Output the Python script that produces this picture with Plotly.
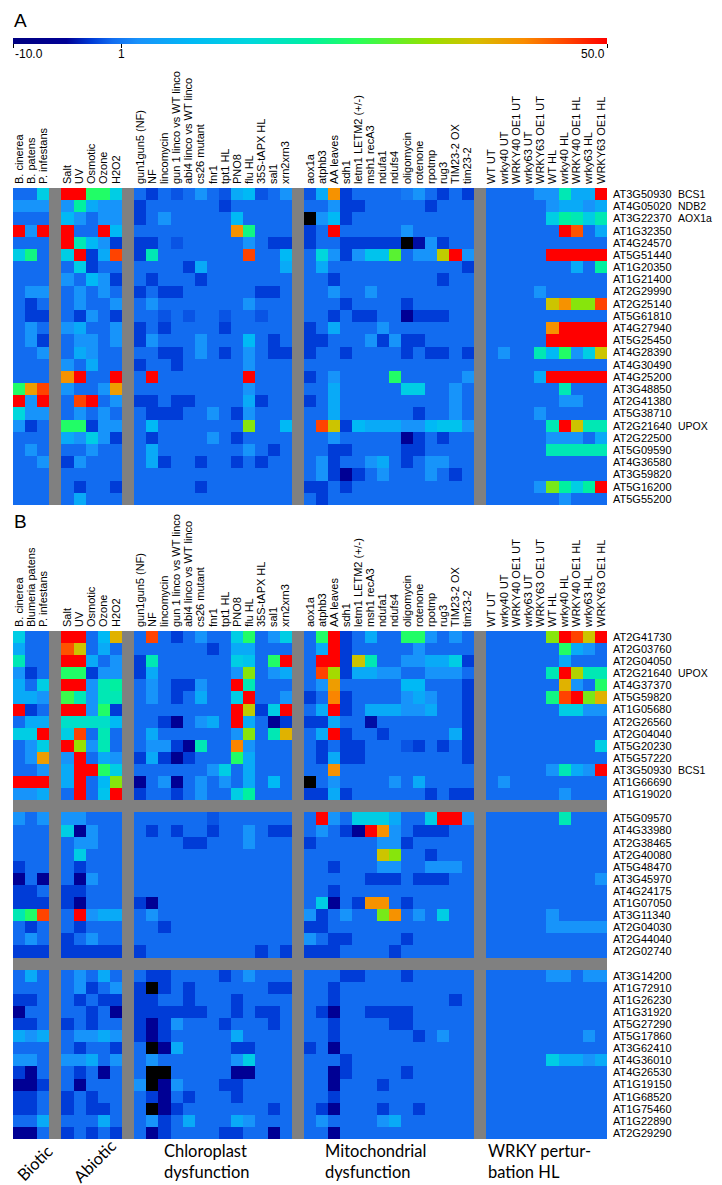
import plotly.graph_objects as go

W, H = 722, 1185

# ---------------- column labels ----------------
biotic_a = ["B. cinerea", "B. patens", "P. infestans"]
biotic_b = ["B. cinerea", "Blumeria patens", "P. infestans"]
abiotic = ["Salt", "UV", "Osmotic", "Ozone", "H2O2"]
chloro = ["gun1gun5 (NF)", "NF", "lincomycin", "gun 1 linco vs WT linco", "abi4 linco vs WT linco",
          "cs26 mutant", "fnr1", "tpt1 HL", "PNO8", "flu HL", "35S-tAPX HL", "sal1", "xrn2xrn3"]
mito = ["aox1a", "atphb3", "AA leaves", "sdh1", "letm1 LETM2 (+/-)", "msh1 recA3", "ndufa1", "ndufs4",
        "oligomycin", "rotenone", "rpotmp", "rug3", "TIM23-2 OX", "tim23-2"]
wrky = ["WT UT", "wrky40 UT", "WRKY40 OE1 UT", "wrky63 UT", "WRKY63 OE1 UT",
        "WT HL", "wrky40 HL", "WRKY40 OE1 HL", "wrky63 HL", "WRKY63 OE1 HL"]
group_titles = ["Biotic", "Abiotic", "Chloroplast<br>dysfunction", "Mitochondrial<br>dysfunction",
                "WRKY pertur-<br>bation HL"]

# ---------------- panel A ----------------
panel_a_genes = ["AT3G50930", "AT4G05020", "AT3G22370", "AT1G32350", "AT4G24570", "AT5G51440",
                 "AT1G20350", "AT1G21400", "AT2G29990", "AT2G25140", "AT5G61810", "AT4G27940",
                 "AT5G25450", "AT4G28390", "AT4G30490", "AT4G25200", "AT3G48850", "AT2G41380",
                 "AT5G38710", "AT2G21640", "AT2G22500", "AT5G09590", "AT4G36580", "AT3G59820",
                 "AT5G16200", "AT5G55200"]
panel_a_named = {"AT3G50930": "BCS1", "AT4G05020": "NDB2", "AT3G22370": "AOX1a", "AT2G21640": "UPOX"}

# values: biotic(3) | abiotic(5) | chloroplast(13) | mitochondrial(14) | WRKY(10); -20 = off scale (black)
panel_a_values = [
    [0, 0, 12,  50, 50, 24, 24, 12,  0, -2, 0, -1, 0, 3, 0, -1, 6, 8, -1, 0, 3,  -1, 6, 41, -2, 0, 0, 0, 0, 1, 3, 0, -2, 0, -2,  0, 0, 0, 0, 3, 3, 18, 6, 6, 50],
    [3, 3, 3,  3, 20, 6, 3, 3,  -2, 0, 0, 0, 0, 0, 0, -2, 0, 0, 0, 0, 0,  0, 0, 3, -2, -2, 0, 0, 0, 0, 0, -2, 0, 0, 0,  0, 0, 0, 0, 0, 3, 6, 6, 3, 6],
    [0, 0, 0,  8, 3, 0, 3, 3,  -2, 0, 3, 0, 0, 0, 0, 0, 8, 0, 0, 0, 0,  -20, 3, 8, -2, 0, 0, 0, 0, 0, 0, 0, 0, 0, 0,  0, 0, 0, 0, 0, 12, 20, 18, 12, 18],
    [50, 3, 50,  50, 0, 0, 50, 8,  0, 0, 0, 0, 0, 0, 0, 0, 41, 22, 0, 0, 0,  -2, 0, 50, 0, 0, 0, 0, 0, 3, 0, 0, 0, 0, 0,  0, 0, 0, 0, 0, 0, 50, 45, 0, 6],
    [0, 0, 0,  50, 18, 8, 3, -2,  -2, -2, 0, -1, 0, 0, 0, 0, 0, 3, 0, -2, -2,  -2, 0, 0, -2, -2, -2, -2, -2, -20, -4, 3, -2, 0, 0,  0, 0, 0, 0, 0, 0, 0, 0, 0, 0],
    [12, 22, 0,  12, 50, -2, 6, 46,  -2, 18, 0, 0, 0, 0, 0, 0, 0, 46, 0, 0, 8,  0, 14, 3, -2, 3, 10, 10, 28, 0, 3, 3, 35, 50, 3,  0, 0, 0, 0, 0, 50, 50, 50, 50, 50],
    [0, 0, 0,  0, 12, -2, 0, 0,  0, 0, 0, 0, -2, 6, 0, 0, 0, 0, 0, 0, 6,  0, 6, 0, 0, 0, 0, 0, 0, 0, 0, 0, 0, 0, -2,  0, 0, 0, 0, 0, 0, 0, 6, 0, 20],
    [0, 0, 0,  3, 0, 8, 3, -2,  0, -2, 0, 0, 0, -2, 0, 0, 0, 0, 0, 0, 0,  0, 0, -2, 0, 0, 0, 0, 0, 0, 0, 0, -2, 0, 0,  0, 0, 0, 0, 0, 0, 0, 0, 0, 0],
    [0, 3, 3,  0, 3, 0, 3, 0,  -2, 0, -2, -2, 0, 0, 0, 0, 0, 0, -2, -2, 0,  0, 0, 3, 0, 0, 3, 0, 0, 0, 0, 0, 0, 0, 0,  0, 0, 0, 0, 3, 0, 0, 0, 0, 0],
    [0, -2, 0,  0, 3, 0, 0, 3,  0, 3, 0, 0, 0, 0, 0, 0, 0, 3, 0, 0, 0,  0, 0, 0, -2, 0, 0, 0, 0, -2, 0, 0, 0, 0, 0,  0, 0, 0, 0, 0, 36, 41, 31, 31, 46],
    [0, -2, -2,  0, -2, 3, 0, -2,  0, 0, -1, 0, -1, 0, 0, -1, 0, 0, -1, 0, 0,  0, 0, -2, 0, -2, -2, 0, 0, -5, -2, -2, -2, 0, 0,  0, 0, 0, 0, 0, 0, 0, 0, 0, 0],
    [0, 3, 0,  3, 6, 0, 0, 3,  -2, 0, -2, 0, 0, 0, 0, -2, 0, 0, 0, 0, 0,  -2, 0, 6, 0, 0, 0, 3, 0, 0, 0, 0, 0, 0, 0,  0, 0, 0, 0, 0, 41, 50, 50, 50, 50],
    [0, 3, -2,  0, 3, 3, 0, 3,  -2, 3, 0, 0, 0, 3, 0, 0, 0, 8, 0, -2, 0,  -2, -2, 0, 0, 0, 3, -2, 3, -2, -2, 0, 0, 0, 0,  0, 0, 0, 0, 0, 50, 50, 50, 50, 50],
    [0, 0, 3,  0, 6, 3, 0, 0,  0, 0, -2, -2, 0, 3, 0, -2, 0, 3, 0, -2, -2,  -2, 0, 0, -2, 0, 0, 0, 0, -2, 0, -2, -2, 0, -2,  0, 3, 0, 0, 18, 8, 24, 3, 12, 36],
    [0, 0, 0,  3, 0, 6, 0, 0,  -2, 0, 0, -2, 0, 0, 0, 0, 0, 3, 0, 0, 0,  0, 0, 0, 0, 0, 0, 0, 0, 0, 0, 0, 0, 0, 0,  0, 0, 0, 0, 0, 0, 0, 0, 0, 0],
    [0, 0, 0,  41, 50, 0, 0, 50,  0, 50, 0, 0, 0, 0, 0, 0, 0, 50, 0, 0, 0,  -2, 0, 3, 0, 0, 0, 0, 24, 0, 0, 0, 0, 0, 3,  0, 0, 0, 0, 6, 50, 50, 50, 50, 50],
    [24, 40, 46,  3, 0, 0, 3, 40,  0, 0, 0, 0, 0, 0, 0, 0, 0, 3, 0, 0, 0,  0, 0, 6, 0, 0, 0, 0, 0, 12, 12, 0, 0, 3, 0,  0, 0, 0, 0, 0, 0, 18, 0, 0, 0],
    [50, 3, 50,  0, 46, 50, 0, 3,  -2, -2, 0, -2, -2, 0, 0, 0, 0, 6, -2, 0, 0,  -2, 0, 6, 0, 0, 0, 0, 0, 0, 0, 0, 0, 3, 0,  0, 0, 0, 0, 0, 0, 3, 3, 0, 0],
    [14, 3, 3,  0, 3, 0, 3, 0,  0, -2, -2, -2, 0, 0, 3, 0, -2, 3, 0, 0, 0,  0, 0, 6, 0, 0, 0, 0, 0, 0, -2, 0, 0, 3, 0,  0, 0, 0, 0, 3, 0, 0, 0, 0, 0],
    [3, -2, 0,  24, 24, -2, 3, 3,  0, 8, 0, 0, 0, 0, 0, 0, 0, 31, 0, 0, 8,  0, 46, 36, -2, 8, 6, 6, 6, 3, 3, 8, 10, 10, 3,  0, 0, 0, 0, 0, 18, 50, 36, 18, 18],
    [0, 0, 0,  6, 3, 12, 3, -2,  0, -2, 0, 0, 0, 0, 3, 0, -2, 0, 0, 0, 0,  0, 0, 3, 0, 0, 0, 0, 0, -5, -2, 0, -2, 0, 0,  0, 0, 0, 0, 0, 3, 3, 3, 0, 6],
    [0, 3, 0,  0, 0, 3, 0, 0,  0, 6, 0, 0, 0, 0, 0, 0, 0, 3, 0, -2, 0,  0, 0, -2, -2, 0, 0, 0, 0, -2, -2, 0, 0, 0, 0,  0, 0, 0, 0, 0, 18, 18, 18, 18, 18],
    [0, 0, 3,  -2, 3, 0, 0, 0,  0, 6, -2, 0, 0, -2, 0, 0, -2, 0, -2, 0, 0,  0, 3, -2, 0, 0, 3, 6, 0, -2, 0, 3, 3, 0, 0,  0, 0, 0, 0, 0, 0, 0, 0, 0, 0],
    [0, 0, 0,  0, 0, 0, 0, 0,  0, 0, 0, 0, 0, 0, 0, 0, 0, 0, 0, 0, 0,  0, 3, -2, -5, -2, 0, 3, 0, 0, 0, 3, 0, -2, 0,  0, 0, 0, 0, 0, 0, 0, 0, 0, 0],
    [0, 0, 0,  0, -2, 0, 0, -2,  0, 0, 0, 0, 0, -2, 0, 0, 0, 0, 0, 0, 0,  -2, -2, 0, -2, 0, 0, 0, 0, 0, 0, 0, 0, 0, 0,  0, 0, 0, 0, 3, 30, 20, 12, 20, 50],
    [0, 0, 0,  0, 6, 0, 0, 0,  0, 0, 0, 0, 0, 0, 0, 0, 0, 0, 0, 0, 0,  0, -2, 0, 0, 0, 0, 0, 0, 0, 0, 0, 0, 0, 0,  0, 0, 0, 0, 0, 0, 3, 0, 0, 0],
]

# ---------------- panel B (three gene clusters) ----------------
b1_genes = ["AT2G41730", "AT2G03760", "AT2G04050", "AT2G21640", "AT4G37370", "AT5G59820", "AT1G05680",
            "AT2G26560", "AT2G04040", "AT5G20230", "AT5G57220", "AT3G50930", "AT1G66690", "AT1G19020"]
b2_genes = ["AT5G09570", "AT4G33980", "AT2G38465", "AT2G40080", "AT5G48470", "AT3G45970", "AT4G24175",
            "AT1G07050", "AT3G11340", "AT2G04030", "AT2G44040", "AT2G02740"]
b3_genes = ["AT3G14200", "AT1G72910", "AT1G26230", "AT1G31920", "AT5G27290", "AT5G17860", "AT3G62410",
            "AT4G36010", "AT4G26530", "AT1G19150", "AT1G68520", "AT1G75460", "AT1G22890", "AT2G29290"]
panel_b_named = {"AT2G21640": "UPOX", "AT3G50930": "BCS1"}

b1_values = [
    [12, 0, 0,  50, 50, 0, 8, 38,  0, 46, 0, -2, 0, 3, 0, 0, 12, 24, 0, 3, 12,  0, 24, 50, -2, 0, 6, 0, 0, 24, 24, 3, 0, 3, 0,  0, 0, 0, 0, 0, 31, 50, 46, 36, 50],
    [6, 0, 0,  45, 36, 0, 6, 0,  0, 0, 0, 0, 0, 0, -2, 0, 6, 6, 0, 0, 0,  0, 6, 50, -2, 0, 0, 0, 0, 0, 3, 0, 0, 0, 0,  0, 0, 0, 0, 0, 0, 24, 6, 3, 0],
    [18, 0, 0,  50, 50, 6, 0, 3,  -2, 18, 0, 0, 0, 0, 0, 0, 12, 10, 0, 24, 50,  0, 50, 50, -2, 36, 18, 0, 0, 3, 3, 6, 6, 12, -2,  0, 0, 0, 0, 0, 0, 6, 0, 0, 0],
    [3, -2, 0,  24, 24, -2, 3, 3,  -2, 6, 0, 0, 0, 0, 0, 0, 3, 31, 0, 3, 6,  0, 46, 33, -2, 6, 6, 3, 3, 0, 0, 3, 3, 3, 0,  0, 0, 0, 0, 0, 18, 50, 34, 18, 18],
    [6, 0, 12,  50, 50, 3, 18, 20,  0, 3, 0, -2, -2, 3, 0, 0, 50, 18, 0, 0, 0,  0, 3, 40, 0, 0, 0, 0, 0, 8, 8, 0, 0, 0, -2,  0, 0, 0, 0, 0, 0, 38, 3, 0, 24],
    [6, 6, 3,  26, 18, 3, 18, 18,  0, 3, 0, -2, 0, 6, 0, 0, 12, 50, 0, 0, 3,  -2, 0, 42, -2, 0, 0, 0, 0, 3, 6, 3, 0, 0, -2,  0, 0, 0, 0, 0, 22, 46, 50, 30, 38],
    [50, -2, 0,  50, 50, 3, 24, -2,  0, 0, 0, 0, 0, 0, 0, 0, 50, 35, -2, 12, 50,  0, 6, 50, -2, 0, 6, 6, 6, 3, 3, 6, 0, 0, -2,  0, 0, 0, 0, 0, 0, 12, 12, 3, 3],
    [0, 6, 6,  16, 16, 16, 16, 8,  0, 0, -2, -5, 0, 3, 6, 0, 50, 6, 0, -5, -2,  -2, -2, 6, 0, 0, -4, 0, 0, 0, 0, 0, 0, 0, -2,  0, 0, 0, 0, 0, 0, 0, 0, 0, 0],
    [12, 12, 50,  12, 46, 0, 18, 0,  0, 6, 0, 0, 0, 0, 0, 0, 3, 31, 0, 18, 38,  0, 6, 50, -2, 0, 0, -2, 0, 0, 0, 0, 0, 6, -2,  0, 0, 0, 0, 0, 0, 0, 0, 0, 0],
    [0, 3, 12,  50, 32, 3, 18, 0,  0, 3, 3, -2, -5, 18, 0, 0, 42, 3, 0, 0, 0,  0, -2, 0, -2, -2, 0, 0, 0, -1, -2, 0, -2, 0, -2,  0, 0, 0, 0, 0, 0, 0, 0, 0, 12],
    [0, 3, 40,  3, 50, 0, 6, 3,  -2, 6, -2, -6, -2, 0, 0, 0, 24, 6, 0, 0, 0,  0, -2, 6, -2, -2, 0, 0, 0, 0, 0, 0, 0, 0, -2,  0, 0, 0, 0, 0, 0, 0, 0, 0, 0],
    [0, 0, 3,  6, 50, 50, 24, 12,  0, 0, 0, 0, 0, 0, 3, 12, 0, 6, 0, 0, 0,  0, 0, 41, 0, 0, 0, 0, 0, 0, 0, 0, 0, 0, 0,  0, 0, 0, 0, 0, 3, 18, 6, 3, 50],
    [50, 50, 50,  6, 50, 0, 8, 31,  -5, 0, 3, -5, 0, 3, 0, 3, 0, 6, 0, 8, 0,  -20, 0, 3, 0, 0, 0, 0, 3, 0, 6, 0, 0, 0, 0,  0, 3, 0, 0, 0, 0, 0, 0, 0, 0],
    [3, 3, 6,  0, 50, 0, 10, 50,  -2, 0, 0, -2, 0, 3, 0, 0, 12, 20, 0, 0, 0,  -2, -2, 6, -2, 0, 0, 0, 0, 0, 0, -2, 0, -2, -2,  0, 0, 0, 0, 0, 0, 3, 0, 0, 0],
]
b2_values = [
    [3, 0, 3,  3, 3, 0, 0, 0,  0, 0, 0, 0, 0, 0, -1, 0, 0, 0, 0, 0, 0,  0, 50, 3, 0, 12, 12, 12, 6, 0, 0, 12, 50, 50, 3,  0, 0, 0, 0, 0, 0, 18, 0, 0, 0],
    [0, 0, 0,  12, -5, 3, 0, 0,  0, -2, 0, -2, 0, 0, -2, 0, 0, 3, 0, -2, -2,  0, 3, 0, -2, -5, 50, 41, 3, 0, -2, -2, -2, 0, 0,  0, 0, 0, 0, 0, 0, 0, 0, 0, 0],
    [0, 0, 0,  0, 3, 3, 0, 0,  0, 0, 0, 0, -2, -2, 0, 0, 0, 3, 0, 0, 0,  -2, 0, 0, 0, 0, 0, 3, 3, -2, 0, 0, 0, 0, 0,  0, 0, 0, 0, 0, 0, 0, 0, 0, 0],
    [0, 0, 0,  0, 12, 0, 0, 0,  0, 0, 0, 0, 0, 0, 0, 0, 0, 0, 0, 0, 0,  0, 0, 0, 0, 0, 0, 36, 31, 0, 0, -2, 0, 0, 0,  0, 0, 0, 0, 0, 0, 0, 0, 0, 0],
    [-2, 0, 0,  0, -2, 0, 0, 0,  0, 0, 0, 0, 0, 0, 0, 0, 0, 0, 0, 0, 0,  0, 0, -2, 0, 0, 0, 3, 3, 0, 0, 3, 3, 3, 0,  0, 0, 0, 0, 0, 0, 0, 0, 0, 0],
    [-5, 0, -5,  0, -5, 3, 0, 0,  0, 0, 0, 0, 0, 0, 0, 0, 0, 0, 0, 0, 0,  0, 0, 0, 0, 0, -2, -2, -2, 0, -2, -2, -2, 0, 0,  0, 0, 0, 0, 0, 0, 0, 0, 0, 3],
    [-2, -2, 0,  -2, -2, 0, 0, 0,  0, 0, 0, 0, 0, 0, 0, 0, 0, 0, 0, 0, 0,  0, 0, -2, 0, 0, 0, 0, 0, 0, 0, 0, 0, 0, 0,  0, 0, 0, 0, 0, 0, 0, 0, 0, 0],
    [-2, -2, -2,  -2, -5, 0, 0, 0,  -2, -5, 0, 0, 0, 0, 0, 0, 0, 0, 0, 0, 0,  0, 12, -5, 0, -2, 41, 41, 0, -2, 0, 0, 0, 0, 0,  0, 0, 0, 0, 0, 0, 0, 0, 0, 0],
    [18, 24, 46,  0, 50, 3, 6, 6,  0, 3, 0, 0, 0, 0, 0, 0, 0, 0, 0, 0, 0,  3, -2, 0, 3, 0, 0, 30, 41, 0, 3, 0, 12, 0, 0,  0, 0, 0, 0, 0, 3, 0, 0, 0, 0],
    [0, -2, 0,  0, -2, 0, 0, 0,  0, 0, -2, 0, 0, 0, 0, 0, 0, 0, 0, 0, 0,  -2, -2, 0, 0, 0, 0, 0, 0, 0, 0, 0, 0, 0, 0,  0, 0, 0, 0, 0, 3, 3, 3, 3, 3],
    [0, 3, 0,  -2, 0, 3, 0, 0,  0, 0, 0, 0, 0, 0, 0, 0, 0, 0, 0, 0, 0,  3, 0, -2, -2, 0, 0, 0, 0, -2, 0, 0, 0, 0, 0,  0, 0, 0, 0, 0, 0, 0, 0, 0, 0],
    [-2, -2, -2,  -2, -2, -2, -2, -2,  -2, 0, 0, 0, 0, 0, 0, 0, 0, 0, -2, 0, -2,  -2, -2, -2, 0, 0, 0, 0, -2, 0, 0, 0, 0, 0, 0,  0, 0, 0, 0, 0, 0, 0, 0, 0, 0],
]
b3_values = [
    [0, 6, 0,  0, 3, 0, 6, 0,  0, -2, -2, 0, 0, 0, 0, -2, 0, 3, 0, 0, 0,  0, 0, 0, -2, -2, 0, 0, 0, -2, 0, 0, 0, 0, 0,  0, 0, 0, 0, 0, 3, 3, 0, 3, 3],
    [0, 0, 0,  0, 3, -2, 0, 3,  -2, -20, -2, 0, -2, 0, 0, 0, 0, 0, 0, -2, -2,  0, 0, -2, 0, 0, 0, 0, 0, 0, 0, 0, 0, 0, 0,  0, 0, 0, 0, 0, 0, 0, 0, 0, 0],
    [-2, -2, 0,  0, -2, 0, -2, -2,  -2, -2, 0, 0, -2, 0, 0, 0, -2, 0, 0, 0, 0,  0, 0, -2, 0, 0, 0, 0, 0, 0, 0, 0, 0, -2, 0,  0, 0, 0, 0, 0, 0, 0, 0, 0, 0],
    [-5, 0, 0,  0, 0, -2, 0, -5,  -2, -2, -2, -2, -2, -2, 0, 0, -2, 0, -2, -2, 0,  0, -2, -5, 0, 0, -2, -2, -2, -2, 0, 0, 0, 0, 0,  0, 0, 0, 0, 0, 0, 0, 0, 0, 0],
    [-2, -2, 0,  -2, 0, -2, 0, 0,  -2, -5, -2, 3, 0, 0, 0, -2, 0, 0, 0, -2, 0,  0, 0, -2, 0, 0, 0, 0, -2, -2, 0, 0, 0, 0, 0,  0, 0, 0, 0, 0, 0, 0, 0, 0, 0],
    [6, 3, 6,  0, 3, 3, 6, 3,  -2, -5, -2, 0, 0, 0, 0, 0, 6, 0, 0, 0, 0,  0, 0, -2, 0, 0, 0, 0, 0, 0, -2, 0, 3, 0, 0,  0, 0, 0, 0, 0, 0, 0, 0, 3, 0],
    [0, 0, 0,  0, -2, 0, 0, -2,  0, -20, -5, 6, 0, 0, 0, 0, -2, -2, 0, 0, 0,  -2, 0, -5, 0, 0, 0, 0, 0, 0, 0, 0, 0, 0, 0,  0, 0, 0, 0, 0, 0, 0, 0, 0, 0],
    [3, 3, 0,  3, 3, 6, 0, 3,  0, 3, 0, 0, 0, 0, 0, 0, 3, 12, 0, 0, 0,  0, 0, 0, -2, 0, 0, 0, 0, 0, 0, 0, 0, 0, 0,  0, 0, 0, 0, 0, 12, 6, 6, 3, 6],
    [-2, -5, 0,  0, -2, 0, -5, 0,  0, -20, -20, 0, 0, 0, 0, 0, -5, -5, 0, 0, 0,  0, 0, -5, -2, 0, 0, 0, 0, -2, 0, 0, 0, 0, 0,  0, 0, 0, 0, 0, 0, 0, 0, 0, 0],
    [-5, -5, -2,  0, -5, 0, 0, 0,  3, -20, -5, 3, 0, 0, 0, -2, -2, 0, 0, 0, 0,  0, 0, -5, 0, 0, 0, -2, 0, 0, 0, 0, 0, 0, 0,  0, 0, 0, 0, 0, 0, 0, 0, 0, 0],
    [-2, -2, 0,  -2, 0, -2, 0, 0,  0, -2, -5, 0, -2, 0, 0, 0, -2, 0, 0, 0, 0,  0, 0, -2, 0, 0, 0, 0, 0, 0, 0, 0, 0, 0, 0,  0, 0, 0, 0, 0, 0, 0, 0, 0, 0],
    [-2, -2, 0,  -2, 0, -2, -2, 0,  0, -20, -5, -2, 0, 0, 0, 0, 0, 0, 0, -2, 0,  0, -2, -5, 0, 0, 0, -2, 0, 0, -2, 0, 0, 0, 0,  0, 0, 0, 0, 0, 0, 0, 0, 0, 0],
    [0, 0, 6,  0, 0, 0, 6, 0,  0, 3, -2, 0, 6, 0, 0, 0, 6, 3, 0, 0, 0,  0, 3, 0, 0, 0, 0, 3, 6, 0, 0, 0, 0, 0, 0,  0, 0, 0, 0, 0, 0, 0, 0, 0, 0],
    [-5, -5, 0,  -2, 0, -2, 0, -2,  0, -5, -2, 0, 0, 0, 0, -2, -2, 0, 0, -5, 0,  0, 0, -5, 0, 0, 0, 0, 0, 0, 0, 0, 0, 0, 0,  0, 0, 0, 0, 0, 0, 0, 0, 0, 0],
]

# colour scale (value range -10 .. 50)
zmin, zmax = -10, 50
colorscale = [
    [0.0, "rgb(0,0,128)"], [0.09, "rgb(0,0,150)"], [0.133, "rgb(0,60,215)"],
    [0.167, "rgb(18,108,240)"], [0.21, "rgb(25,145,250)"], [0.30, "rgb(0,185,245)"],
    [0.40, "rgb(0,215,220)"], [0.50, "rgb(0,240,160)"], [0.58, "rgb(40,255,90)"],
    [0.70, "rgb(150,225,0)"], [0.78, "rgb(215,190,0)"], [0.86, "rgb(250,140,0)"],
    [0.93, "rgb(255,70,0)"], [1.0, "rgb(255,0,0)"],
]

# ---------------- layout helpers ----------------
blocks_a = [biotic_a, abiotic, chloro, mito, wrky]
blocks_b = [biotic_b, abiotic, chloro, mito, wrky]
block_sizes = [len(b) for b in blocks_a]
col_pos = []
pos = 0
for bi, n in enumerate(block_sizes):
    col_pos += list(range(pos, pos + n))
    pos += n
    if bi < len(block_sizes) - 1:
        pos += 1  # grey separator column
ncols = pos


def expand_row(vals):
    row = [None] * ncols
    for p, v in zip(col_pos, vals):
        row[p] = v
    return row


def black_row(vals):
    row = [None] * ncols
    for p, v in zip(col_pos, vals):
        if v is not None and v < zmin:
            row[p] = 1
    return row


za = [expand_row(r) for r in panel_a_values]
ka = [black_row(r) for r in panel_a_values]

rows_b = b1_values + [None] + b2_values + [None] + b3_values
genes_b = b1_genes + [None] + b2_genes + [None] + b3_genes
zb = [expand_row(r) if r is not None else [None] * ncols for r in rows_b]
kb = [black_row(r) if r is not None else [None] * ncols for r in rows_b]

xs = list(range(ncols))

# geometry (pixels)
X0, X1 = 5, 599
A_TOP, A_BOT = 180, 497
B_TOP, B_BOT = 623, 1131

fig = go.Figure()
fig.add_trace(go.Heatmap(
    z=za, x=xs, y=list(range(len(za))), zmin=zmin, zmax=zmax, colorscale=colorscale,
    xaxis="x", yaxis="y", hoverongaps=False,
    colorbar=dict(orientation="h", x=X0 / W, xanchor="left", y=1 - 30 / H, yanchor="top",
                  len=X1 - X0, lenmode="pixels", thickness=6, thicknessmode="pixels",
                  outlinewidth=0, xpad=0, ypad=0, tickvals=[-10, 1, 50],
                  ticks="outside", ticklen=4, tickcolor="black", showticklabels=False)))
fig.add_trace(go.Heatmap(z=ka, x=xs, y=list(range(len(za))), colorscale=[[0, "black"], [1, "black"]],
                         showscale=False, xaxis="x", yaxis="y", hoverongaps=False))
fig.add_trace(go.Heatmap(z=zb, x=xs, y=list(range(len(zb))), zmin=zmin, zmax=zmax, colorscale=colorscale,
                         showscale=False, xaxis="x2", yaxis="y2", hoverongaps=False))
fig.add_trace(go.Heatmap(z=kb, x=xs, y=list(range(len(zb))), colorscale=[[0, "black"], [1, "black"]],
                         showscale=False, xaxis="x2", yaxis="y2", hoverongaps=False))

font_lab = "Liberation Sans, Arial, sans-serif"
xdom = [X0 / W, X1 / W]
ya_dom = [1 - A_BOT / H, 1 - A_TOP / H]
yb_dom = [1 - B_BOT / H, 1 - B_TOP / H]

labels_a = [l for b in blocks_a for l in b]
labels_b = [l for b in blocks_b for l in b]

common_x = dict(range=[-0.5, ncols - 0.5], side="top", tickangle=-90, tickmode="array",
                tickvals=col_pos, showgrid=False, zeroline=False, ticks="", showline=False,
                tickfont=dict(family=font_lab, size=11, color="black"), ticklabelstandoff=3)
common_y = dict(side="right", tickmode="array", showgrid=False, zeroline=False, ticks="",
                ticklabelstandoff=5, tickfont=dict(family=font_lab, size=11, color="black"))
fig.update_layout(
    width=W, height=H, margin=dict(l=0, r=0, t=0, b=0),
    paper_bgcolor="white", plot_bgcolor="#808080", showlegend=False,
    xaxis=dict(domain=xdom, anchor="y", ticktext=labels_a, **common_x),
    xaxis2=dict(domain=xdom, anchor="y2", ticktext=labels_b, **common_x),
    yaxis=dict(domain=ya_dom, anchor="x", range=[len(za) - 0.5, -0.5],
               tickvals=list(range(len(za))), ticktext=panel_a_genes, **common_y),
    yaxis2=dict(domain=yb_dom, anchor="x2", range=[len(zb) - 0.5, -0.5],
                tickvals=[i for i, g in enumerate(genes_b) if g],
                ticktext=[g for g in genes_b if g], **common_y),
)

ann = []
ann.append(dict(text="A", x=4 / W, y=1 - 12 / H, xref="paper", yref="paper", xanchor="left",
                yanchor="middle", showarrow=False, font=dict(family=font_lab, size=19, color="black")))
ann.append(dict(text="B", x=4 / W, y=1 - 514 / H, xref="paper", yref="paper", xanchor="left",
                yanchor="middle", showarrow=False, font=dict(family=font_lab, size=19, color="black")))
for txt, v, anc in [("-10.0", -10, "left"), ("1", 1, "center"), ("50.0", 50, "right")]:
    xp = (X0 + (X1 - X0) * (v - zmin) / (zmax - zmin)) / W
    ann.append(dict(text=txt, x=xp, y=1 - 46 / H, xref="paper", yref="paper", xanchor=anc,
                    yanchor="middle", showarrow=False, font=dict(family=font_lab, size=12, color="black")))
for i, g in enumerate(panel_a_genes):
    if g in panel_a_named:
        ann.append(dict(text=panel_a_named[g], x=668 / W, y=i, xref="paper", yref="y", xanchor="left",
                        yanchor="middle", showarrow=False, font=dict(family=font_lab, size=10.5, color="black")))
for i, g in enumerate(genes_b):
    if g in panel_b_named:
        ann.append(dict(text=panel_b_named[g], x=668 / W, y=i, xref="paper", yref="y2", xanchor="left",
                        yanchor="middle", showarrow=False, font=dict(family=font_lab, size=10.5, color="black")))
gfont = dict(family="Lato, Open Sans, sans-serif", size=16.5, color="black")
ann.append(dict(text=group_titles[0], x=27 / W, y=1 - 1155 / H, xref="paper", yref="paper",
                xanchor="center", yanchor="middle", textangle=-45, showarrow=False, font=gfont))
ann.append(dict(text=group_titles[1], x=87 / W, y=1 - 1153 / H, xref="paper", yref="paper",
                xanchor="center", yanchor="middle", textangle=-45, showarrow=False, font=gfont))
for txt, xl in zip(group_titles[2:], [155, 316, 479]):
    ann.append(dict(text=txt, x=xl / W, y=1 - 1132 / H, xref="paper", yref="paper", xanchor="left",
                    yanchor="top", align="left", showarrow=False, borderpad=0, font=gfont))
fig.update_layout(annotations=ann)

fig.write_html("out.html")
